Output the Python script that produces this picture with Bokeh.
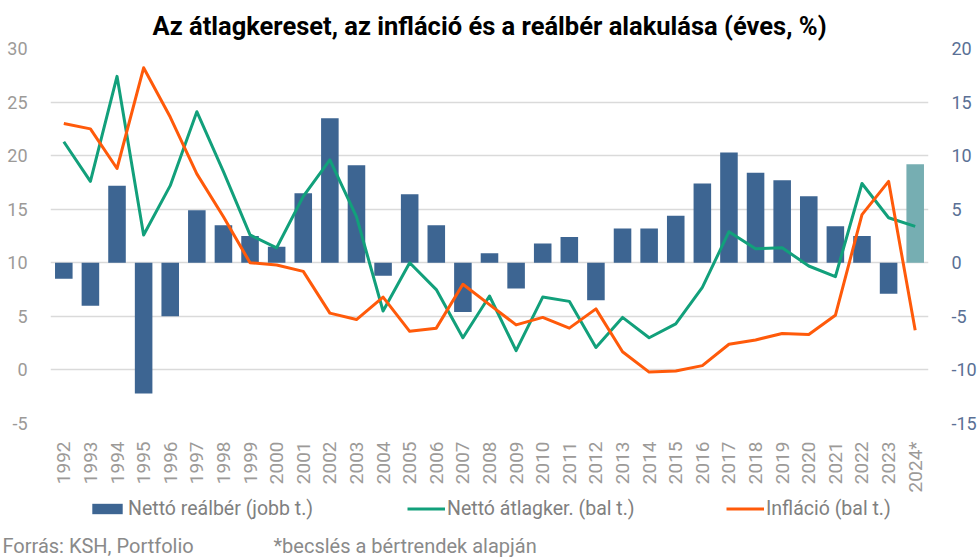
import math
from bokeh.plotting import figure
from bokeh.layouts import column
from bokeh.models import (Range1d, LinearAxis, SingleIntervalTicker, Legend, LegendItem,
                          FactorRange, PrintfTickFormatter, Label)
from bokeh.embed import file_html
from bokeh.resources import INLINE

years = ["1992", "1993", "1994", "1995", "1996", "1997", "1998", "1999", "2000", "2001",
         "2002", "2003", "2004", "2005", "2006", "2007", "2008", "2009", "2010", "2011",
         "2012", "2013", "2014", "2015", "2016", "2017", "2018", "2019", "2020", "2021",
         "2022", "2023", "2024*"]
real_wage = [-1.5, -4.0, 7.2, -12.2, -5.0, 4.9, 3.5, 2.5, 1.5, 6.5,
             13.5, 9.1, -1.2, 6.4, 3.5, -4.6, 0.9, -2.4, 1.8, 2.4,
             -3.5, 3.2, 3.2, 4.4, 7.4, 10.3, 8.4, 7.7, 6.2, 3.4,
             2.5, -2.9, 9.2]
net_avg_wage = [21.3, 17.6, 27.4, 12.6, 17.2, 24.1, 18.5, 12.6, 11.4, 16.2,
                19.6, 14.3, 5.5, 10.0, 7.5, 3.0, 6.9, 1.8, 6.8, 6.4,
                2.1, 4.9, 3.0, 4.3, 7.7, 12.9, 11.3, 11.4, 9.7, 8.7,
                17.4, 14.2, 13.4]
inflation = [23.0, 22.5, 18.8, 28.2, 23.6, 18.3, 14.3, 10.0, 9.8, 9.2,
             5.3, 4.7, 6.8, 3.6, 3.9, 8.0, 6.1, 4.2, 4.9, 3.9,
             5.7, 1.7, -0.2, -0.1, 0.4, 2.4, 2.8, 3.4, 3.3, 5.1,
             14.5, 17.6, 3.7]

title = "Az átlagkereset, az infláció és a reálbér alakulása (éves, %)"
legend_labels = ["Nettó reálbér (jobb t.)", "Nettó átlagker. (bal t.)", "Infláció (bal t.)"]
source_text = "Forrás: KSH, Portfolio"
note_text = "*becslés a bértrendek alapján"

BLUE = "#3d6592"
TEAL = "#76aeb2"
GREEN = "#12a07b"
ORANGE = "#ff5a0a"
FONT = "Roboto"
W = 979
H1 = 495
H2 = 62

p = figure(width=W, height=H1, x_range=FactorRange(factors=years),
           y_range=Range1d(-5, 30), output_backend="svg", toolbar_location=None,
           min_border_left=50, min_border_right=46, min_border_top=48, min_border_bottom=68)
p.extra_y_ranges = {"right": Range1d(-15, 20)}
p.outline_line_color = None
p.frame_align = False

p.title.text = title
p.title.align = "center"
p.title.text_font = FONT
p.title.text_font_size = "25.5px"
p.title.text_font_style = "bold"
p.title.text_color = "#000000"
p.title.standoff = 16

lt = SingleIntervalTicker(interval=5)
p.yaxis.ticker = lt
p.ygrid.ticker = lt
p.yaxis.formatter = PrintfTickFormatter(format="%d")
p.yaxis.axis_line_color = None
p.yaxis.major_tick_line_color = None
p.yaxis.minor_tick_line_color = None
p.yaxis.major_label_text_font = FONT
p.yaxis.major_label_text_font_size = "18px"
p.yaxis.major_label_text_color = "#9c9a98"
p.yaxis.major_label_standoff = 17

ra = LinearAxis(y_range_name="right", ticker=SingleIntervalTicker(interval=5),
                formatter=PrintfTickFormatter(format="%d"))
ra.axis_line_color = None
ra.major_tick_line_color = None
ra.minor_tick_line_color = None
ra.major_label_text_font = FONT
ra.major_label_text_font_size = "18px"
ra.major_label_text_color = "#5a7095"
ra.major_label_standoff = 17
p.add_layout(ra, "right")

p.xaxis.axis_line_color = None
p.xaxis.major_tick_line_color = None
p.xaxis.minor_tick_line_color = None
p.xaxis.major_label_orientation = math.pi / 2
p.xaxis.major_label_text_font = FONT
p.xaxis.major_label_text_font_size = "19px"
p.xaxis.major_label_text_color = "#9c9a98"
p.xaxis.major_label_standoff = 12

p.xgrid.grid_line_color = None
p.ygrid.grid_line_color = "#dadada"
p.ygrid.grid_line_width = 1.5

p.vbar(x=years[:-1], top=real_wage[:-1], bottom=0, width=0.66,
       y_range_name="right", fill_color=BLUE, line_color=None)
p.vbar(x=years[-1:], top=real_wage[-1:], bottom=0, width=0.66,
       y_range_name="right", fill_color=TEAL, line_color=None)
p.line(x=years, y=net_avg_wage, line_width=3, line_color=GREEN, line_join="round")
p.line(x=years, y=inflation, line_width=3, line_color=ORANGE, line_join="round")

# footer: legend + source (hidden renderers only provide the legend swatches)
f = figure(width=W, height=H2, x_range=FactorRange(factors=years), y_range=Range1d(-15, 20),
           output_backend="svg", toolbar_location=None, x_axis_location=None,
           y_axis_location=None, min_border=0)
f.frame_align = False
f.outline_line_color = None
f.xgrid.grid_line_color = None
f.ygrid.grid_line_color = None
lb = f.vbar(x=years, top=real_wage, width=0.66, fill_color=BLUE, line_color=None, visible=False)
lg = f.line(x=years, y=net_avg_wage, line_width=3, line_color=GREEN, visible=False)
lo = f.line(x=years, y=inflation, line_width=3, line_color=ORANGE, visible=False)

leg = Legend(items=[LegendItem(label=legend_labels[0], renderers=[lb]),
                    LegendItem(label=legend_labels[1], renderers=[lg]),
                    LegendItem(label=legend_labels[2], renderers=[lo])],
             location=(88, 37), orientation="horizontal", padding=0, margin=0, spacing=0,
             border_line_color=None, background_fill_alpha=0,
             glyph_width=38, glyph_height=13, label_standoff=2, label_width=279,
             label_text_font=FONT, label_text_font_size="19.5px",
             label_text_color="#808080", label_height=20)
f.add_layout(leg, "center")

for txt, x in ((source_text, 2), (note_text, 273)):
    f.add_layout(Label(x=x, y=12, x_units="screen", y_units="screen", text=txt,
                       text_font=FONT, text_font_size="20px", text_color="#8a8a8a",
                       text_baseline="alphabetic"))

open("out.html", "w").write(file_html(column(p, f, spacing=0), INLINE))
